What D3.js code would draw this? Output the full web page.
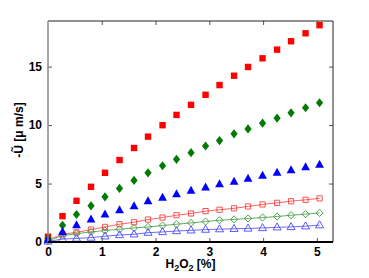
<!DOCTYPE html>
<html>
<head>
<meta charset="utf-8">
<script src="https://cdn.jsdelivr.net/npm/d3@7"></script>
<style>
body { margin: 0; background: #fff; }
svg text { font-family: "Liberation Sans", Arial, sans-serif; font-weight: bold; }
</style>
</head>
<body>
<svg id="chart" width="369" height="278"></svg>
<script>
const h2o2 = [0, 0.27, 0.53, 0.8, 1.06, 1.33, 1.6, 1.86, 2.13, 2.39, 2.66, 2.93, 3.19, 3.46, 3.72, 3.99, 4.26, 4.52, 4.79, 5.05];

const redFilled   = [0.45, 2.21, 3.52, 4.72, 5.92, 7.01, 8.04, 9.01, 9.99, 10.87, 11.73, 12.59, 13.42, 14.22, 14.97, 15.71, 16.45, 17.17, 17.85, 18.54];
const greenFilled = [0.3, 1.43, 2.35, 3.09, 3.86, 4.58, 5.27, 5.92, 6.52, 7.07, 7.64, 8.21, 8.67, 9.25, 9.67, 10.16, 10.59, 11.05, 11.48, 11.91];
const blueFilled  = [0.2, 0.86, 1.43, 1.92, 2.35, 2.72, 3.06, 3.49, 3.78, 4.09, 4.38, 4.67, 4.95, 5.15, 5.41, 5.67, 5.92, 6.15, 6.39, 6.61];

const redOpen   = [0.2, 0.66, 0.83, 1.06, 1.29, 1.52, 1.69, 1.92, 2.09, 2.29, 2.44, 2.64, 2.76, 2.88, 3.04, 3.21, 3.35, 3.49, 3.61, 3.73];
const greenOpen = [0.1, 0.55, 0.72, 0.86, 0.98, 1.09, 1.2, 1.29, 1.41, 1.52, 1.63, 1.75, 1.86, 1.93, 2.01, 2.09, 2.18, 2.29, 2.38, 2.49];
const blueOpen  = [0.05, 0.25, 0.3, 0.38, 0.49, 0.6, 0.66, 0.8, 0.86, 0.94, 1.0, 1.06, 1.1, 1.13, 1.16, 1.2, 1.26, 1.29, 1.35, 1.44];

const xTicks = [0, 1, 2, 3, 4, 5];
const yTicks = [0, 5, 10, 15];

const width = 369, height = 278;
const margin = {top: 21, right: 36, bottom: 36, left: 48};

const svg = d3.select('#chart');

const x = d3.scaleLinear()
	.domain([0, 5.3])
	.range([margin.left, width - margin.right]);

const y = d3.scaleLinear()
	.domain([0, 18.9])
	.range([height - margin.bottom, margin.top]);

// marker shapes, centred on 0,0
let square = s => `M${-s},${-s}H${s}V${s}H${-s}Z`;
let diamond = (w, hh) => `M0,${-hh}L${w},0L0,${hh}L${-w},0Z`;
let triangle = (w, hh) => `M0,${-hh * 0.62}L${w},${hh * 0.38}L${-w},${hh * 0.38}Z`;

// open series with lines
const openSeries = [
	{data: redOpen, color: '#ff3b3b', path: square(2.6)},
	{data: greenOpen, color: '#3a9a3a', path: diamond(3.6, 3.6)},
	{data: blueOpen, color: '#4747ff', path: triangle(4, 7)}
];

openSeries.forEach(s => {
	svg.append('path')
		.datum(s.data)
		.attr('fill', 'none')
		.attr('stroke', s.color)
		.attr('stroke-width', 0.8)
		.attr('d', d3.line().x((d, i) => x(h2o2[i])).y(d => y(d)));

	svg.append('g')
		.selectAll('path')
		.data(s.data)
		.join('path')
			.attr('transform', (d, i) => `translate(${x(h2o2[i])},${y(d)})`)
			.attr('d', s.path)
			.attr('fill', 'none')
			.attr('stroke', s.color)
			.attr('stroke-width', 0.9);
});

const filledSeries = [
	{data: redFilled, color: '#ff0000', path: square(3.2)},
	{data: greenFilled, color: '#007a00', path: diamond(3.6, 4.6)},
	{data: blueFilled, color: '#0000ff', path: triangle(4.4, 8)}
];

filledSeries.forEach(s => {
	svg.append('g')
		.selectAll('path')
		.data(s.data)
		.join('path')
			.attr('transform', (d, i) => `translate(${x(h2o2[i])},${y(d)})`)
			.attr('d', s.path)
			.attr('fill', s.color);
});

// axes, MATLAB style with inward ticks
const x0 = margin.left, x1 = width - margin.right;
const y0 = height - margin.bottom, y1 = margin.top;

svg.append('g')
	.attr('transform', `translate(0,${y0})`)
	.call(d3.axisBottom(x).tickValues(xTicks).tickSize(-4).tickPadding(5).tickFormat(d3.format('d')).tickSizeOuter(0))
	.call(g => g.select('.domain').remove())
	.call(g => g.selectAll('text').attr('font-size', 12).attr('fill', '#000'));

svg.append('g')
	.attr('transform', `translate(0,${y1})`)
	.call(d3.axisTop(x).tickValues(xTicks.slice(1)).tickSize(-4).tickFormat('').tickSizeOuter(0))
	.call(g => g.select('.domain').remove());

svg.append('g')
	.attr('transform', `translate(${x0},0)`)
	.call(d3.axisLeft(y).tickValues(yTicks).tickSize(-4).tickPadding(6).tickSizeOuter(0))
	.call(g => g.select('.domain').remove())
	.call(g => g.selectAll('text').attr('font-size', 12).attr('fill', '#000'));

svg.append('g')
	.attr('transform', `translate(${x1},0)`)
	.call(d3.axisRight(y).tickValues(yTicks.slice(1)).tickSize(-4).tickFormat('').tickSizeOuter(0))
	.call(g => g.select('.domain').remove());

svg.selectAll('.tick line').attr('stroke', '#555');

// frame
svg.append('line').attr('x1', x0).attr('x2', x1).attr('y1', y1).attr('y2', y1).attr('stroke', '#222').attr('stroke-width', 1);
svg.append('line').attr('x1', x1).attr('x2', x1).attr('y1', y1).attr('y2', y0).attr('stroke', '#222').attr('stroke-width', 1);
svg.append('line').attr('x1', x0).attr('x2', x0).attr('y1', y1).attr('y2', y0).attr('stroke', '#8a8a8a').attr('stroke-width', 1.5);
svg.append('line').attr('x1', x0).attr('x2', x1).attr('y1', y0).attr('y2', y0).attr('stroke', '#000').attr('stroke-width', 2);

// labels
const xl = svg.append('text')
	.attr('x', (x0 + x1) / 2)
	.attr('y', 268)
	.attr('text-anchor', 'middle')
	.attr('font-size', 12);
xl.append('tspan').text('H');
xl.append('tspan').attr('font-size', 9).attr('dy', 3).text('2');
xl.append('tspan').attr('dy', -3).text('O');
xl.append('tspan').attr('font-size', 9).attr('dy', 3).text('2');
xl.append('tspan').attr('dy', -3).text(' [%]');

svg.append('text')
	.attr('transform', `translate(23,130) rotate(-90)`)
	.attr('text-anchor', 'middle')
	.attr('font-size', 12)
	.text('-\u0168  [\u03bc m/s]');
</script>
</body>
</html>
